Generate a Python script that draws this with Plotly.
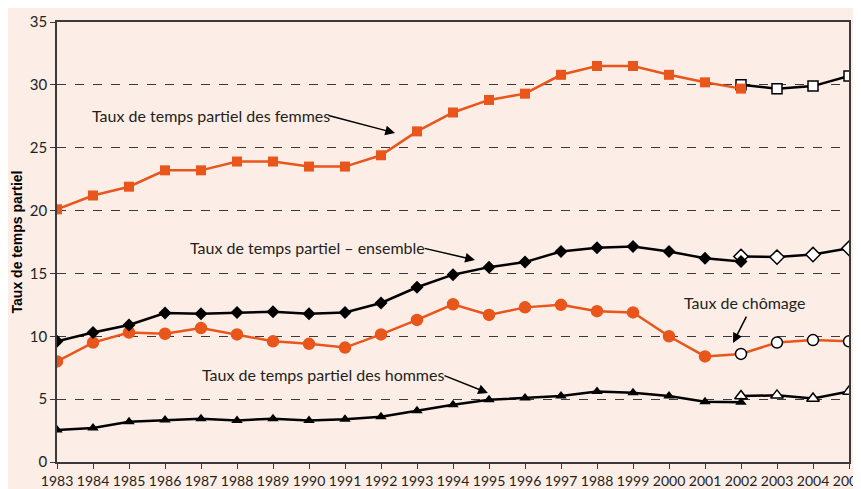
import plotly.graph_objects as go

years = list(range(1983, 2006))
tick_labels = ["1983", "1984", "1985", "1986", "1987", "1988", "1989", "1990", "1991", "1992",
               "1993", "1994", "1995", "1996", "1997", "1988", "1999", "2000", "2001", "2002",
               "2003", "2004", "2005"]

years_old = list(range(1983, 2003))
years_new = [2002, 2003, 2004, 2005]

femmes = [20.1, 21.2, 21.9, 23.2, 23.2, 23.9, 23.9, 23.5, 23.5, 24.4,
          26.3, 27.8, 28.8, 29.3, 30.8, 31.5, 31.5, 30.8, 30.2, 29.7]
femmes_new = [30.0, 29.7, 29.9, 30.7]

ensemble = [9.6, 10.3, 10.9, 11.85, 11.8, 11.9, 11.95, 11.8, 11.9, 12.65,
            13.9, 14.9, 15.5, 15.9, 16.75, 17.05, 17.15, 16.75, 16.2, 15.95]
ensemble_new = [16.35, 16.3, 16.5, 17.0]

chomage = [8.0, 9.5, 10.3, 10.2, 10.65, 10.15, 9.6, 9.4, 9.1, 10.15,
           11.3, 12.55, 11.7, 12.3, 12.5, 12.0, 11.9, 10.0, 8.4, 8.6,
           9.5, 9.7, 9.6]

hommes = [2.55, 2.7, 3.2, 3.35, 3.45, 3.3, 3.45, 3.3, 3.4, 3.6,
          4.07, 4.55, 4.95, 5.1, 5.25, 5.6, 5.5, 5.25, 4.8, 4.75]
hommes_new = [5.25, 5.3, 5.05, 5.6]

ORANGE = "#e8561c"
BLACK = "#000000"
BG = "#fcede6"
FONT = "Lato, 'Open Sans', sans-serif"

fig = go.Figure()

# new series (2002-2005), drawn first
fig.add_trace(go.Scatter(x=years_new, y=femmes_new, mode="lines+markers",
                         line=dict(color=BLACK, width=2.5),
                         marker=dict(symbol="square", size=10, color="white",
                                     line=dict(color=BLACK, width=1.5))))
fig.add_trace(go.Scatter(x=years_new, y=ensemble_new, mode="lines+markers",
                         line=dict(color=BLACK, width=2.5),
                         marker=dict(symbol="diamond", size=11, color="white",
                                     line=dict(color=BLACK, width=1.5))))
fig.add_trace(go.Scatter(x=years_new, y=hommes_new, mode="lines+markers",
                         line=dict(color=BLACK, width=2.5),
                         marker=dict(symbol="triangle-up", size=11, color="white",
                                     line=dict(color=BLACK, width=1.5))))

# chomage, single series with open markers from 2002
ch_fill = [ORANGE if y < 2002 else "white" for y in years]
ch_line = [ORANGE if y < 2002 else BLACK for y in years]
fig.add_trace(go.Scatter(x=years, y=chomage, mode="lines+markers",
                         line=dict(color=ORANGE, width=2.5),
                         marker=dict(symbol="circle", size=11, color=ch_fill,
                                     line=dict(color=ch_line, width=1.5))))

# old series
fig.add_trace(go.Scatter(x=years_old, y=femmes, mode="lines+markers",
                         line=dict(color=ORANGE, width=2.5),
                         marker=dict(symbol="square", size=10, color=ORANGE)))
fig.add_trace(go.Scatter(x=years_old, y=ensemble, mode="lines+markers",
                         line=dict(color=BLACK, width=2.5),
                         marker=dict(symbol="diamond", size=10, color=BLACK)))
fig.add_trace(go.Scatter(x=years_old, y=hommes, mode="lines+markers",
                         line=dict(color=BLACK, width=2.5),
                         marker=dict(symbol="triangle-up", size=10, color=BLACK)))

labels = [
    ("Taux de temps partiel des femmes", 1983.92, 27.6, 1990.5, 27.6, 1992.39, 26.17),
    ("Taux de temps partiel – ensemble", 1986.64, 17.1, 1993.17, 17.02, 1994.61, 16.07),
    ("Taux de temps partiel des hommes", 1986.97, 7.0, 1993.72, 6.92, 1994.97, 5.49),
    ("Taux de chômage", 2000.36, 12.65, 2002.17, 11.69, 2001.78, 9.47),
]
for txt, tx, ty, ax, ay, hx, hy in labels:
    fig.add_annotation(x=tx, y=ty, text=txt, showarrow=False, xanchor="left",
                       yanchor="middle", font=dict(family=FONT, size=16, color="#231f20"))
    fig.add_annotation(x=hx, y=hy, ax=ax, ay=ay, axref="x", ayref="y", text="",
                       showarrow=True, arrowhead=2, arrowsize=1.3, arrowwidth=1.5,
                       arrowcolor=BLACK, standoff=0, startstandoff=0)

fig.update_layout(
    width=861, height=489,
    margin=dict(l=49, r=20, t=14, b=35, autoexpand=False),
    paper_bgcolor=BG, plot_bgcolor=BG,
    showlegend=False,
    font=dict(family=FONT, size=14, color="#231f20"),
)
fig.update_xaxes(range=[1983, 2005], tickvals=years, ticktext=tick_labels,
                 automargin=False, ticklabeloverflow="allow",
                 showgrid=False, zeroline=False, showline=True, linecolor="#3a3a3a",
                 linewidth=1.5, mirror=True, ticks="outside", ticklen=5,
                 tickcolor="#3a3a3a", tickfont=dict(family=FONT, size=14))
fig.update_yaxes(range=[0, 35], tickvals=[0, 5, 10, 15, 20, 25, 30, 35],
                 automargin=False, ticklabeloverflow="allow",
                 showgrid=True, gridcolor="#3a3a3a", griddash="dash", gridwidth=1.3,
                 zeroline=False, showline=True, linecolor="#3a3a3a", linewidth=1.5,
                 mirror=True, ticks="outside", ticklen=5, tickcolor="#3a3a3a",
                 tickfont=dict(family=FONT, size=15),
                 title=dict(text="<b>Taux de temps partiel</b>", standoff=4,
                            font=dict(family="Liberation Sans, Arial, sans-serif", size=14,
                                      color="#000000")))

fig.write_html("out.html")
